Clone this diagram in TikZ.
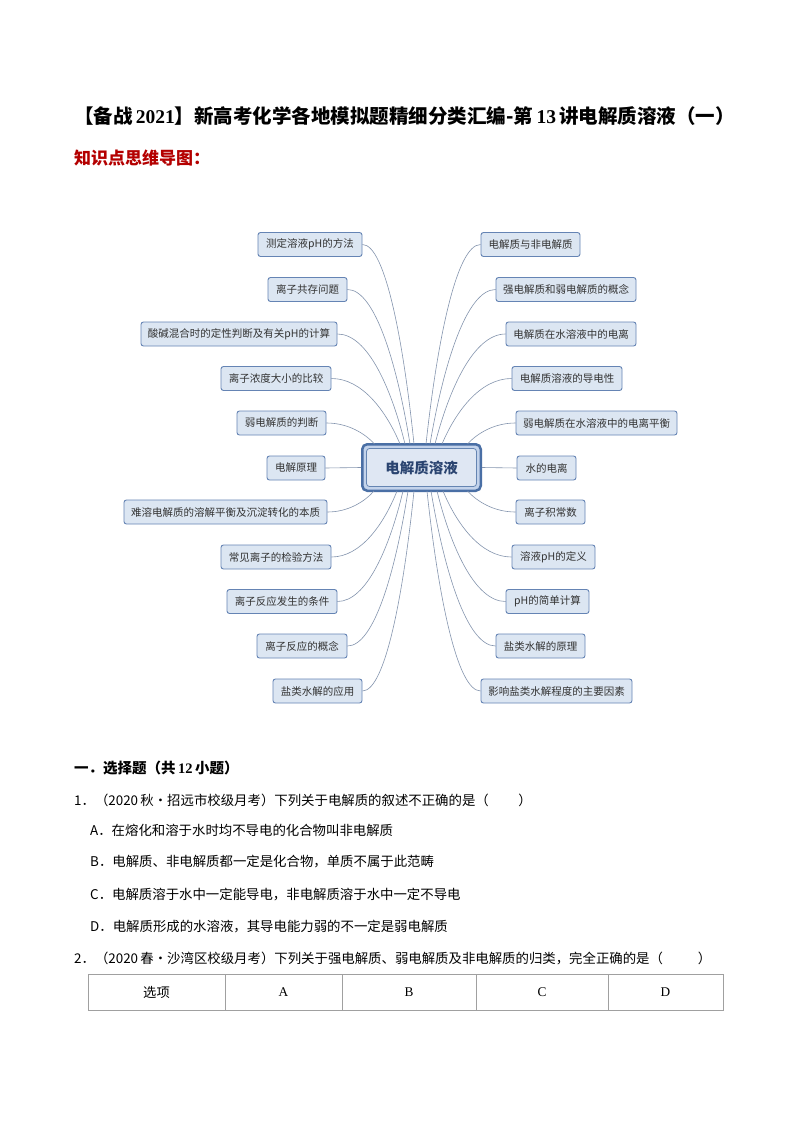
\documentclass[tikz,border=0pt]{standalone}
\usepackage{fontspec}
\setmainfont{Liberation Serif}
\newfontfamily\cjk{Noto Sans CJK SC}
\usetikzlibrary{calc}
\definecolor{leaffill}{HTML}{DCE6F2}
\definecolor{leafborder}{HTML}{6584B4}
\definecolor{leaftext}{HTML}{333333}
\definecolor{connclr}{HTML}{8494AE}
\definecolor{ctrborder}{HTML}{4A6FA5}
\definecolor{ctrband}{HTML}{C3D3EB}
\definecolor{ctrinner}{HTML}{DFE7F3}
\definecolor{ctrtext}{HTML}{2A4470}
\definecolor{headred}{HTML}{B40000}
\definecolor{tablegray}{HTML}{A0A0A0}
\tikzset{
  leaf/.style={draw=leafborder, fill=leaffill, rounded corners=2.5pt, line width=0.9pt,
    minimum height=24pt, inner xsep=2pt, inner ysep=0pt, text=leaftext,
    font=\cjk\fontsize{10.5}{12}\selectfont},
  conn/.style={draw=connclr, line width=0.6pt},
  qtext/.style={anchor=west, inner sep=0pt, font=\cjk\fontsize{13.4}{15}\selectfont},
  cell/.style={inner sep=0pt, font=\fontsize{13.3}{15}\selectfont}
}
\begin{document}
\begin{tikzpicture}[x=1pt,y=-1pt]
\useasboundingbox (0,0) rectangle (794,1123);
\fill[white] (0,0) rectangle (794,1123);

% title
\node[anchor=west, inner sep=0pt] (title) at (74,116)
  {\fontsize{19.5}{21}\selectfont\bfseries{\cjk 【备战}\,2021{\cjk 】新高考化学各地模拟题精细分类汇编-第}\,13\,{\cjk 讲电解质溶液（一）}};
\node[anchor=west, inner sep=0pt, text=headred] (sub) at (74,158)
  {\cjk\bfseries\fontsize{17}{19}\selectfont 知识点思维导图：};

% center node
\node[draw=ctrborder, line width=2.5pt, fill=ctrband, rounded corners=5pt,
      minimum width=118.5pt, minimum height=46.5pt, inner sep=0pt] (C) at (421.5,467.5) {};
\node[draw=ctrborder!85, line width=0.8pt, fill=ctrinner, rounded corners=3pt,
      minimum width=110pt, minimum height=38pt, inner sep=0pt, text=ctrtext,
      font=\cjk\bfseries\fontsize{14.5}{16}\selectfont] (Ci) at (421.5,467.5) {电解质溶液};

% left leaves
\node[leaf, minimum width=104pt] (L1) at (310,244.5) {测定溶液pH的方法};
\node[leaf, minimum width=79pt] (L2) at (307.5,289.5) {离子共存问题};
\node[leaf, minimum width=196pt] (L3) at (239,334) {酸碱混合时的定性判断及有关pH的计算};
\node[leaf, minimum width=110pt] (L4) at (276,378.5) {离子浓度大小的比较};
\node[leaf, minimum width=89pt] (L5) at (281.5,423) {弱电解质的判断};
\node[leaf, minimum width=58pt] (L6) at (296,468) {电解原理};
\node[leaf, minimum width=203pt] (L7) at (225.5,512) {难溶电解质的溶解平衡及沉淀转化的本质};
\node[leaf, minimum width=110pt] (L8) at (276,557) {常见离子的检验方法};
\node[leaf, minimum width=110pt] (L9) at (282,601.5) {离子反应发生的条件};
\node[leaf, minimum width=90pt] (L10) at (302,646) {离子反应的概念};
\node[leaf, minimum width=89pt] (L11) at (317.5,691) {盐类水解的应用};

% right leaves
\node[leaf, minimum width=99pt] (R1) at (530.5,244.5) {电解质与非电解质};
\node[leaf, minimum width=140pt] (R2) at (566,289.5) {强电解质和弱电解质的概念};
\node[leaf, minimum width=130pt] (R3) at (571,334) {电解质在水溶液中的电离};
\node[leaf, minimum width=110pt] (R4) at (567,378.5) {电解质溶液的导电性};
\node[leaf, minimum width=161pt] (R5) at (596.5,423) {弱电解质在水溶液中的电离平衡};
\node[leaf, minimum width=59pt] (R6) at (546.5,468) {水的电离};
\node[leaf, minimum width=69pt] (R7) at (550.5,512) {离子积常数};
\node[leaf, minimum width=83pt] (R8) at (553.5,557) {溶液pH的定义};
\node[leaf, minimum width=83pt] (R9) at (547.5,601.5) {pH的简单计算};
\node[leaf, minimum width=89pt] (R10) at (540.5,646) {盐类水解的原理};
\node[leaf, minimum width=151pt] (R11) at (556.5,691) {影响盐类水解程度的主要因素};

% connectors
\foreach \q/\d in {L1/-7.5, L2/-11.5, L3/-16.5, L4/-21.5, L5/-47}
  \draw[conn] let \p1=(\q.east), \p2=([xshift=\d pt, yshift=-1pt]C.north) in
    (\p1) .. controls ({\x1+0.45*(\x2-\x1)},{\y1}) and ({\x2+0.2*(\x1-\x2)},{0.5*(\y1+\y2)}) .. (\p2);
\foreach \q/\d in {R1/4.5, R2/8.5, R3/13.5, R4/20.5, R5/46}
  \draw[conn] let \p1=(\q.west), \p2=([xshift=\d pt, yshift=-1pt]C.north) in
    (\p1) .. controls ({\x1+0.45*(\x2-\x1)},{\y1}) and ({\x2+0.2*(\x1-\x2)},{0.5*(\y1+\y2)}) .. (\p2);
\foreach \q/\d in {L7/-47.5, L8/-24.5, L9/-18.5, L10/-13.5, L11/-7.5}
  \draw[conn] let \p1=(\q.east), \p2=([xshift=\d pt, yshift=1pt]C.south) in
    (\p1) .. controls ({\x1+0.45*(\x2-\x1)},{\y1}) and ({\x2+0.2*(\x1-\x2)},{0.5*(\y1+\y2)}) .. (\p2);
\foreach \q/\d in {R7/46, R8/21.5, R9/15.5, R10/9.5, R11/5.5}
  \draw[conn] let \p1=(\q.west), \p2=([xshift=\d pt, yshift=1pt]C.south) in
    (\p1) .. controls ({\x1+0.45*(\x2-\x1)},{\y1}) and ({\x2+0.2*(\x1-\x2)},{0.5*(\y1+\y2)}) .. (\p2);
\draw[conn] (L6.east) -- (C.west);
\draw[conn] (R6.west) -- (C.east);

% questions
\node[anchor=west, inner sep=0pt, font=\bfseries\fontsize{14.5}{16}\selectfont] (sec) at (74,768)
  {{\cjk 一．选择题（共}\,12\,{\cjk 小题）}};
\node[qtext] (q1) at (74,800) {1．（2020{\,}秋•招远市校级月考）下列关于电解质的叙述不正确的是（\hspace{2.2em}）};
\node[qtext] (q1a) at (90,830) {A．在熔化和溶于水时均不导电的化合物叫非电解质};
\node[qtext] (q1b) at (90,862) {B．电解质、非电解质都一定是化合物，单质不属于此范畴};
\node[qtext] (q1c) at (90,895) {C．电解质溶于水中一定能导电，非电解质溶于水中一定不导电};
\node[qtext] (q1d) at (90,927) {D．电解质形成的水溶液，其导电能力弱的不一定是弱电解质};
\node[qtext] (q2) at (74,958) {2．（2020{\,}春•沙湾区校级月考）下列关于强电解质、弱电解质及非电解质的归类，完全正确的是（\hspace{2.6em}）};

% table
\draw[tablegray, line width=0.8pt] (88,974) rectangle (723,1010);
\foreach \x in {225,342,476,608} \draw[tablegray, line width=0.8pt] (\x,974) -- (\x,1010);
\node[cell, font=\cjk\fontsize{13.3}{15}\selectfont] (t0) at (156.5,992) {选项};
\node[cell] (tA) at (283.5,992) {A};
\node[cell] (tB) at (409,992) {B};
\node[cell] (tC) at (542,992) {C};
\node[cell] (tD) at (665.5,992) {D};
\end{tikzpicture}
\end{document}
